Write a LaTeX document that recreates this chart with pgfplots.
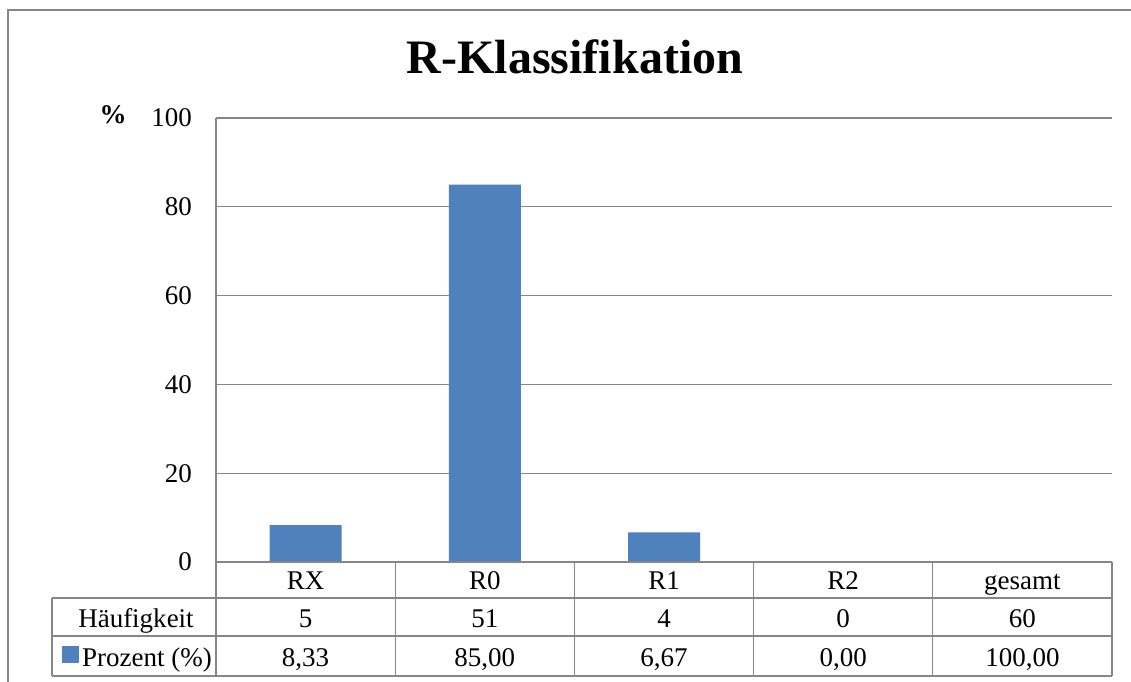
\documentclass[border=0pt]{standalone}
\usepackage{fontspec}
\setmainfont{Liberation Serif}
\usepackage{pgfplots}
\pgfplotsset{compat=1.18}
\definecolor{barblue}{HTML}{4F81BD}
\definecolor{gridgray}{HTML}{868686}
\newcommand{\bodyfont}{\fontsize{27}{32}\selectfont}
\begin{document}
\begin{tikzpicture}[x=1pt,y=1pt]
\useasboundingbox (0,0) rectangle (1131,681);
% outer chart frame (left and top visible)
\draw[gridgray, line width=1.5pt] (8,-5) -- (8,671) -- (1140,671);
% title
\node[anchor=base, inner sep=0pt, font=\fontsize{48}{56}\selectfont\bfseries] at (575,607) {R-Klassifikation};
% y unit
\node[anchor=base, inner sep=0pt, font=\bodyfont\bfseries] at (113,557) {\%};
\begin{axis}[
  at={(216pt,119pt)}, anchor=south west,
  scale only axis, width=896pt, height=444pt,
  xmin=-0.5, xmax=4.5, ymin=0, ymax=100,
  axis x line=none, axis y line*=left,
  y axis line style={gridgray, line width=1.3pt},
  ytick={0,20,40,60,80,100}, ytick style={draw=none},
  ymajorgrids, grid style={gridgray, line width=1.3pt},
  /pgf/number format/assume math mode=true,
  yticklabel style={font=\bodyfont, inner sep=0pt, anchor=east, xshift=-24pt},
  clip=false,
]
\addplot[ybar, fill=barblue, draw=none, bar width=72pt] coordinates {(0,8.33) (1,85) (2,6.67) (3,0)};
\end{axis}
% data table
\begin{scope}[gridgray, line width=1.3pt]
\draw (216,119) -- (1112,119);
\draw (52,83) -- (1112,83);
\draw (52,45) -- (1112,45);
\draw (52,5) -- (1112,5);
\draw (52,83) -- (52,5);
\foreach \x in {216,395.2,574.4,753.6,932.8,1112} \draw (\x,119) -- (\x,5);
\end{scope}
\begin{scope}[font=\bodyfont]
\foreach \t [count=\i from 0] in {RX,R0,R1,R2,gesamt}
  \node[anchor=base, inner sep=0pt] at (305.6+179.2*\i,92) {\t};
\foreach \t [count=\i from 0] in {5,51,4,0,60}
  \node[anchor=base, inner sep=0pt] at (305.6+179.2*\i,54) {\t};
\foreach \t [count=\i from 0] in {{8,33},{85,00},{6,67},{0,00},{100,00}}
  \node[anchor=base, inner sep=0pt] at (305.6+179.2*\i,15) {\t};
\node[anchor=base, inner sep=0pt] at (136,54) {Häufigkeit};
\fill[barblue] (62,18) rectangle (79,35);
\node[anchor=base west, inner sep=0pt] at (82,15) {Prozent (\%)};
\end{scope}
\end{tikzpicture}
\end{document}
